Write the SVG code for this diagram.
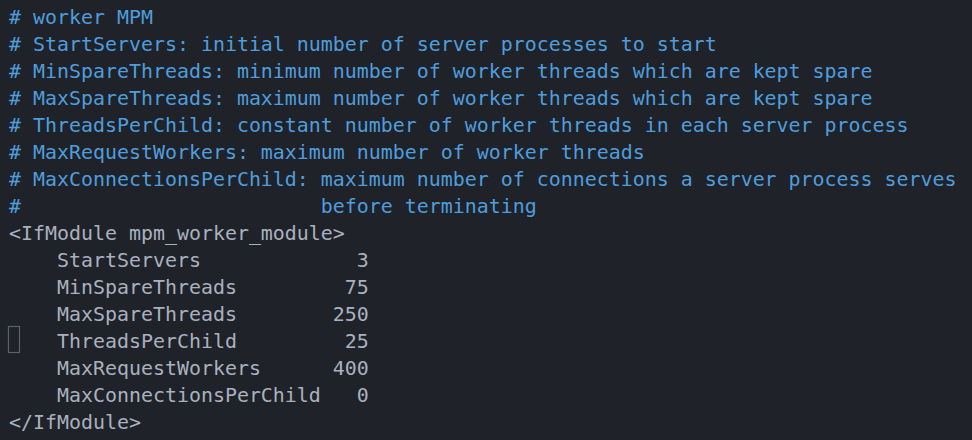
<svg xmlns="http://www.w3.org/2000/svg" width="972" height="440" viewBox="0 0 972 440" xml:space="preserve">
<style>
text { font-family: "DejaVu Sans Mono", "Liberation Mono", monospace; font-size: 19.93px; white-space: pre; }
.c { fill: #4f9ddc; }
.t { fill: #a9b1bf; }
</style>
<rect x="0" y="0" width="972" height="440" fill="#1f2229"/>
<text class="c" x="9" y="23.5"># worker MPM</text>
<text class="c" x="9" y="50.5"># StartServers: initial number of server processes to start</text>
<text class="c" x="9" y="77.5"># MinSpareThreads: minimum number of worker threads which are kept spare</text>
<text class="c" x="9" y="104.5"># MaxSpareThreads: maximum number of worker threads which are kept spare</text>
<text class="c" x="9" y="131.5"># ThreadsPerChild: constant number of worker threads in each server process</text>
<text class="c" x="9" y="158.5"># MaxRequestWorkers: maximum number of worker threads</text>
<text class="c" x="9" y="185.5"># MaxConnectionsPerChild: maximum number of connections a server process serves</text>
<text class="c" x="9" y="212.5">#                         before terminating</text>
<text class="t" x="9" y="239.5">&lt;IfModule mpm_worker_module&gt;</text>
<text class="t" x="9" y="266.5">    StartServers             3</text>
<text class="t" x="9" y="293.5">    MinSpareThreads         75</text>
<text class="t" x="9" y="320.5">    MaxSpareThreads        250</text>
<text class="t" x="9" y="347.5">    ThreadsPerChild         25</text>
<text class="t" x="9" y="374.5">    MaxRequestWorkers      400</text>
<text class="t" x="9" y="401.5">    MaxConnectionsPerChild   0</text>
<text class="t" x="9" y="428.5">&lt;/IfModule&gt;</text>
<rect x="8.5" y="326.5" width="11" height="26" fill="none" stroke="#5b616d" stroke-width="1.2"/>
</svg>
